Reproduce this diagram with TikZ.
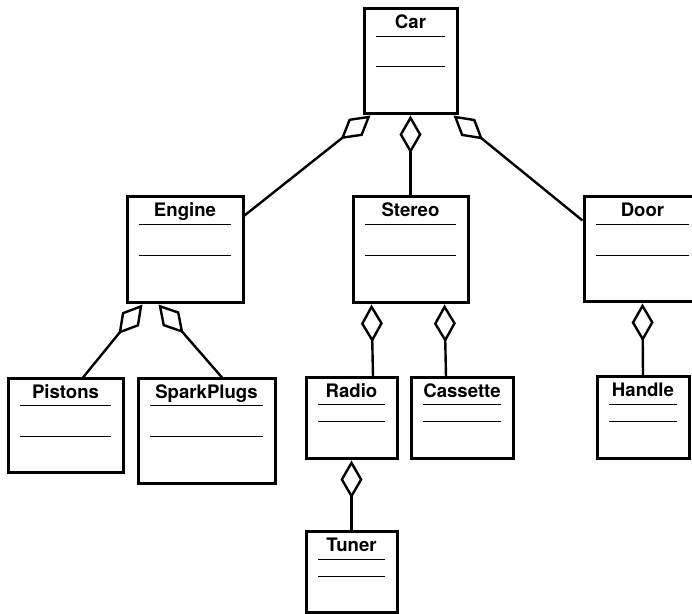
\documentclass[tikz,border=0pt]{standalone}
\usepackage{fontspec}
\setsansfont{TeX Gyre Heros}
\usepackage{tikz}
\usetikzlibrary{arrows.meta,calc}
\tikzset{
  classbox/.style 2 args={draw, line width=1.5pt, inner sep=0pt,
                minimum width=#1*0.5pt, minimum height=#2*0.5pt},
  classname/.style={font=\fontsize{9.3}{11}\sffamily\bfseries, inner sep=0pt, anchor=base},
  compline/.style={line width=0.7pt},
  agg/.style={line width=1.2pt, line join=miter,
              {Diamond[open, length=19pt, width=11pt]}-},
}

\begin{document}
\begin{tikzpicture}[x=0.5pt, y=-0.5pt]
  \useasboundingbox (0,0) rectangle (692,614);

  % Classes
  \node[classbox={93}{105}] (car) at (410.5,61.5) {};
  \node[classbox={116}{106}] (engine) at (185,250) {};
  \node[classbox={115}{106}] (stereo) at (410.5,250) {};
  \node[classbox={117}{105}] (door) at (642.5,249.5) {};
  \node[classbox={115}{94}] (pistons) at (65.5,426) {};
  \node[classbox={137}{105}] (sparkplugs) at (206.5,431.5) {};
  \node[classbox={91}{81}] (radio) at (351.5,418.5) {};
  \node[classbox={102}{81}] (cassette) at (462,418.5) {};
  \node[classbox={92}{82}] (handle) at (643,418) {};
  \node[classbox={91}{81}] (tuner) at (351.5,572.5) {};

  % Names and compartments
  \foreach \n/\t/\a/\b in {car/Car/29/59, engine/Engine/29/60, stereo/Stereo/29/60,
      door/Door/29/60, pistons/Pistons/28/59, sparkplugs/SparkPlugs/28/59,
      radio/Radio/28/45, cassette/Cassette/28/45, handle/Handle/29/46, tuner/Tuner/29/46} {
    \node[classname] (\n-name) at ([shift={(0,21)}]\n.north) {\t};
    \draw[compline] ([shift={(13.5,\a)}]\n.north west) -- ([shift={(-13.5,\a)}]\n.north east);
    \draw[compline] ([shift={(13.5,\b)}]\n.north west) -- ([shift={(-13.5,\b)}]\n.north east);
  }

  % Aggregations
  \draw[agg] ([shift={(8,0)}]car.south west) -- ([shift={(0,20)}]engine.north east);
  \draw[agg] (car.south) -- (stereo.north);
  \draw[agg] ([shift={(-5,0)}]car.south east) -- ([shift={(0,25)}]door.north west);
  \draw[agg] ([shift={(17,0)}]engine.south west) -- ([shift={(17.5,0)}]pistons.north);
  \draw[agg] ([shift={(33,0)}]engine.south west) -- ([shift={(15.5,0)}]sparkplugs.north);
  \draw[agg] ([shift={(20,0)}]stereo.south west) -- ([shift={(21.5,0)}]radio.north);
  \draw[agg] ([shift={(93,0)}]stereo.south west) -- ([shift={(-16,0)}]cassette.north);
  \draw[agg] (door.south) -- (handle.north);
  \draw[agg] (radio.south) -- (tuner.north);

\end{tikzpicture}
\end{document}
